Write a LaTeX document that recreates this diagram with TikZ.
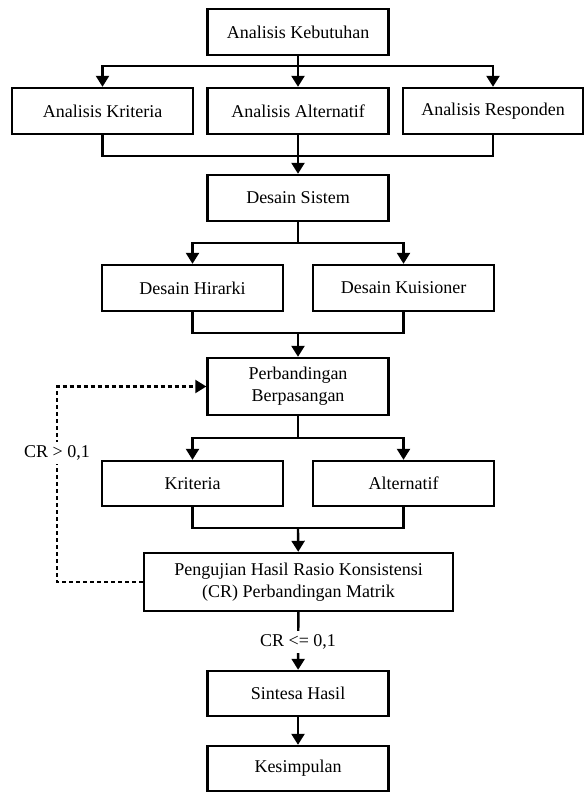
\documentclass[tikz,border=0pt]{standalone}
\usepackage{fontspec}
\setmainfont{Liberation Serif}
\usetikzlibrary{arrows.meta}
\tikzset{
  box/.style={draw, line width=1.2pt, inner sep=0pt, align=center,
    font=\fontsize{9}{11}\selectfont, minimum height=23pt, minimum width=90.5pt},
  conn/.style={line width=1.2pt},
  arr/.style={conn, -{Triangle[width=6.5pt,length=5.5pt]}},
  fb/.style={line width=1.1pt, dash pattern=on 2pt off 1.5pt, -{Triangle[width=6.5pt,length=5.5pt]}},
  lbl/.style={fill=white, inner sep=2pt, font=\fontsize{9}{11}\selectfont}
}
\begin{document}
\begin{tikzpicture}[x=0.5pt,y=-0.5pt]
\useasboundingbox (0,0) rectangle (587,792);
% nodes
\node[box] (keb) at (298,32) {Analisis Kebutuhan};
\node[box] (ak) at (102.5,111) {Analisis Kriteria};
\node[box] (aa) at (298,111) {Analisis Alternatif};
\node[box, minimum width=90pt] (ar) at (493,111) {Analisis Responden};
\node[box] (ds) at (298,198) {Desain Sistem};
\node[box] (dh) at (192.5,288) {Desain Hirarki};
\node[box] (dk) at (403.5,288) {Desain Kuisioner};
\node[box, minimum height=28.5pt] (pb) at (298,386.5) {Perbandingan\\Berpasangan};
\node[box, minimum height=22.5pt] (kr) at (192.5,483.5) {Kriteria};
\node[box, minimum height=22.5pt] (al) at (403.5,483.5) {Alternatif};
\node[box, minimum height=29pt, minimum width=154.5pt] (pg) at (298.5,582) {Pengujian Hasil Rasio Konsistensi\\(CR) Perbandingan Matrik};
\node[box, minimum height=22.5pt] (sh) at (298,693.5) {Sintesa Hasil};
\node[box, minimum height=22.5pt] (ks) at (298,768.5) {Kesimpulan};
% junction points
\coordinate (s1) at (298,66);
\coordinate (m1) at (298,156);
\coordinate (s2) at (298,243);
\coordinate (m2) at (298,333);
\coordinate (s3) at (298,438);
\coordinate (m3) at (298,528);
\coordinate (fbx) at (57,0);
% connectors
\draw[conn] (keb) -- (s1);
\draw[arr] (s1) -| (ak);
\draw[arr] (s1) -- (aa);
\draw[arr] (s1) -| (ar);
\draw[conn] (ak) |- (m1) -| (ar);
\draw[arr] (aa) -- (ds);
\draw[conn] (ds) -- (s2);
\draw[arr] (s2) -| (dh);
\draw[arr] (s2) -| (dk);
\draw[conn] (dh) |- (m2) -| (dk);
\draw[arr] (m2) -- (pb);
\draw[conn] (pb) -- (s3);
\draw[arr] (s3) -| (kr);
\draw[arr] (s3) -| (al);
\draw[conn] (kr) |- (m3) -| (al);
\draw[arr] (m3) -- (pg);
\draw[arr] (pg) -- (sh);
\draw[arr] (sh) -- (ks);
\draw[fb] (pg.west) -| (fbx |- pb.west) -- (pb.west);
% labels
\node[lbl] (l1) at (57,453) {CR > 0,1};
\node[lbl] (l2) at (298,642) {CR <= 0,1};
\end{tikzpicture}
\end{document}
